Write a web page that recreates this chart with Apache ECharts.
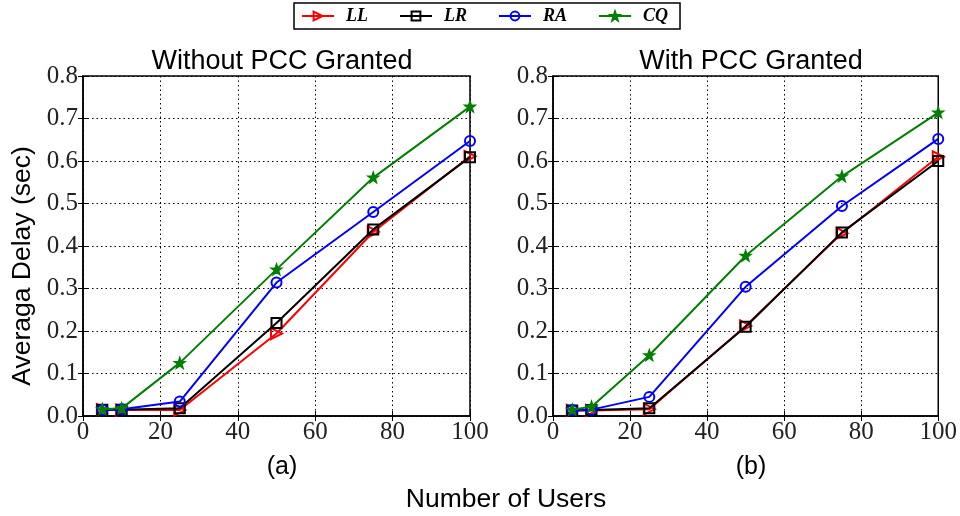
<!DOCTYPE html>
<html><head><meta charset="utf-8">
<script src="https://cdn.jsdelivr.net/npm/echarts@6/dist/echarts.min.js"></script>
<style>html,body{margin:0;padding:0;background:#fff}#c{width:960px;height:516px}</style>
</head><body><div id="c"></div>
<script>
const users = [5, 10, 25, 50, 75, 100];
const seriesNames = ['LL', 'LR', 'RA', 'CQ'];
const xTicks = [0, 20, 40, 60, 80, 100];
const yTicks = [0.0, 0.1, 0.2, 0.3, 0.4, 0.5, 0.6, 0.7, 0.8];
// Left panel (a): Without PCC Granted
const aLL = [0.015, 0.014, 0.014, 0.194, 0.433, 0.611];
const aLR = [0.015, 0.015, 0.018, 0.219, 0.439, 0.609];
const aRA = [0.015, 0.016, 0.034, 0.314, 0.480, 0.647];
const aCQ = [0.016, 0.018, 0.125, 0.345, 0.561, 0.728];
// Right panel (b): With PCC Granted
const bLL = [0.013, 0.013, 0.016, 0.212, 0.430, 0.610];
const bLR = [0.013, 0.014, 0.018, 0.210, 0.432, 0.600];
const bRA = [0.014, 0.015, 0.045, 0.304, 0.494, 0.652];
const bCQ = [0.015, 0.022, 0.143, 0.377, 0.564, 0.714];

const STAR = 'path://M50,0 L62,34 L98,35 L69,56 L80,92 L50,71 L20,92 L31,56 L2,35 L38,34 Z';
const styles = {
  LL: {color: '#ff0000', symbol: 'triangle', rotate: -90, size: 11, fill: 'rgba(0,0,0,0)'},
  LR: {color: '#000000', symbol: 'rect', rotate: 0, size: 10, fill: 'rgba(0,0,0,0)'},
  RA: {color: '#0000ff', symbol: 'circle', rotate: 0, size: 10, fill: 'rgba(0,0,0,0)'},
  CQ: {color: '#008000', symbol: STAR, rotate: 0, size: 9, fill: '#008000'}
};
const panelData = [[aLL, aLR, aRA, aCQ], [bLL, bLR, bRA, bCQ]];

const grids = [
  {left: 83, top: 76, width: 387, height: 340},
  {left: 553, top: 76, width: 386, height: 340}
];
const tickFont = {fontFamily: 'Liberation Serif', fontSize: 25, color: '#222'};
const sans = {fontFamily: 'Liberation Sans', fontWeight: 'normal', color: '#000'};

const xAxes = [], yAxes = [], series = [];
grids.forEach((g, i) => {
  g.show = true; g.borderColor = '#000'; g.borderWidth = 1.5; g.containLabel = false;
  xAxes.push({type: 'value', gridIndex: i, min: xTicks[0], max: xTicks[xTicks.length-1], interval: 20,
    axisLine: {show: true, lineStyle: {color: '#000', width: 1.5}},
    axisTick: {show: true, inside: true, length: 5, lineStyle: {color: '#000'}},
    axisLabel: Object.assign({margin: 4}, tickFont),
    splitLine: {show: true, lineStyle: {color: '#000', type: [1.5, 3], width: 1}}});
  xAxes.push({type: 'value', gridIndex: i, position: 'top', min: 0, max: 100, interval: 20,
    axisLine: {show: false}, axisTick: {show: true, inside: true, length: 5, lineStyle: {color: '#000'}},
    axisLabel: {show: false}, splitLine: {show: false}});
  yAxes.push({type: 'value', gridIndex: i, min: yTicks[0], max: yTicks[yTicks.length-1], interval: 0.1,
    axisLine: {show: true, lineStyle: {color: '#000', width: 1.5}},
    axisTick: {show: true, inside: true, length: 5, lineStyle: {color: '#000'}},
    axisLabel: Object.assign({margin: 5, formatter: v => v.toFixed(1)}, tickFont),
    splitLine: {show: true, lineStyle: {color: '#000', type: [1.5, 3], width: 1}}});
  yAxes.push({type: 'value', gridIndex: i, position: 'right', min: 0, max: 0.8, interval: 0.1,
    axisLine: {show: false}, axisTick: {show: true, inside: true, length: 5, lineStyle: {color: '#000'}},
    axisLabel: {show: false}, splitLine: {show: false}});
  seriesNames.forEach((n, k) => {
    const s = styles[n];
    series.push({name: n, type: 'line', xAxisIndex: i*2, yAxisIndex: i*2,
      data: users.map((u, j) => [u, panelData[i][k][j]]),
      symbol: s.symbol, symbolSize: s.size, symbolRotate: s.rotate, showAllSymbol: true,
      lineStyle: {color: s.color, width: 2},
      itemStyle: {color: s.fill, borderColor: s.color, borderWidth: 2},
      z: 2 + k, animation: false});
  });
});

const chart = echarts.init(document.getElementById('c'), null, {renderer: 'canvas'});
chart.setOption({
  animation: false,
  backgroundColor: '#fff',
  grid: grids,
  xAxis: xAxes,
  yAxis: yAxes,
  series: series,
  legend: {
    data: seriesNames, left: 294, top: 3, height: 26,
    padding: [4, 12, 4, 7], itemGap: 31, itemWidth: 32, itemHeight: 11,
    borderColor: '#000', borderWidth: 1.5, borderRadius: 0,
    textStyle: {fontFamily: 'Liberation Serif', fontStyle: 'italic', fontWeight: 'bold', fontSize: 18, color: '#000', padding: [0, 0, 0, 7]}
  },
  title: [
    {text: 'Without PCC Granted', left: 277, top: 43, textAlign: 'center', textStyle: Object.assign({fontSize: 27}, sans)},
    {text: 'With PCC Granted', left: 746, top: 43, textAlign: 'center', textStyle: Object.assign({fontSize: 27}, sans)},
    {text: '(a)', left: 277, top: 450, textAlign: 'center', textStyle: Object.assign({fontSize: 25}, sans)},
    {text: '(b)', left: 746, top: 450, textAlign: 'center', textStyle: Object.assign({fontSize: 25}, sans)},
    {text: 'Number of Users', left: 501, top: 481, textAlign: 'center', textStyle: Object.assign({fontSize: 26.5}, sans)}
  ],
  graphic: [
    {type: 'text', x: 23, y: 266, rotation: Math.PI/2, style: {text: 'Averaga Delay (sec)', fontFamily: 'Liberation Sans', fontSize: 26.5, fill: '#000', align: 'center', verticalAlign: 'middle'}}
  ]
});
</script></body></html>
